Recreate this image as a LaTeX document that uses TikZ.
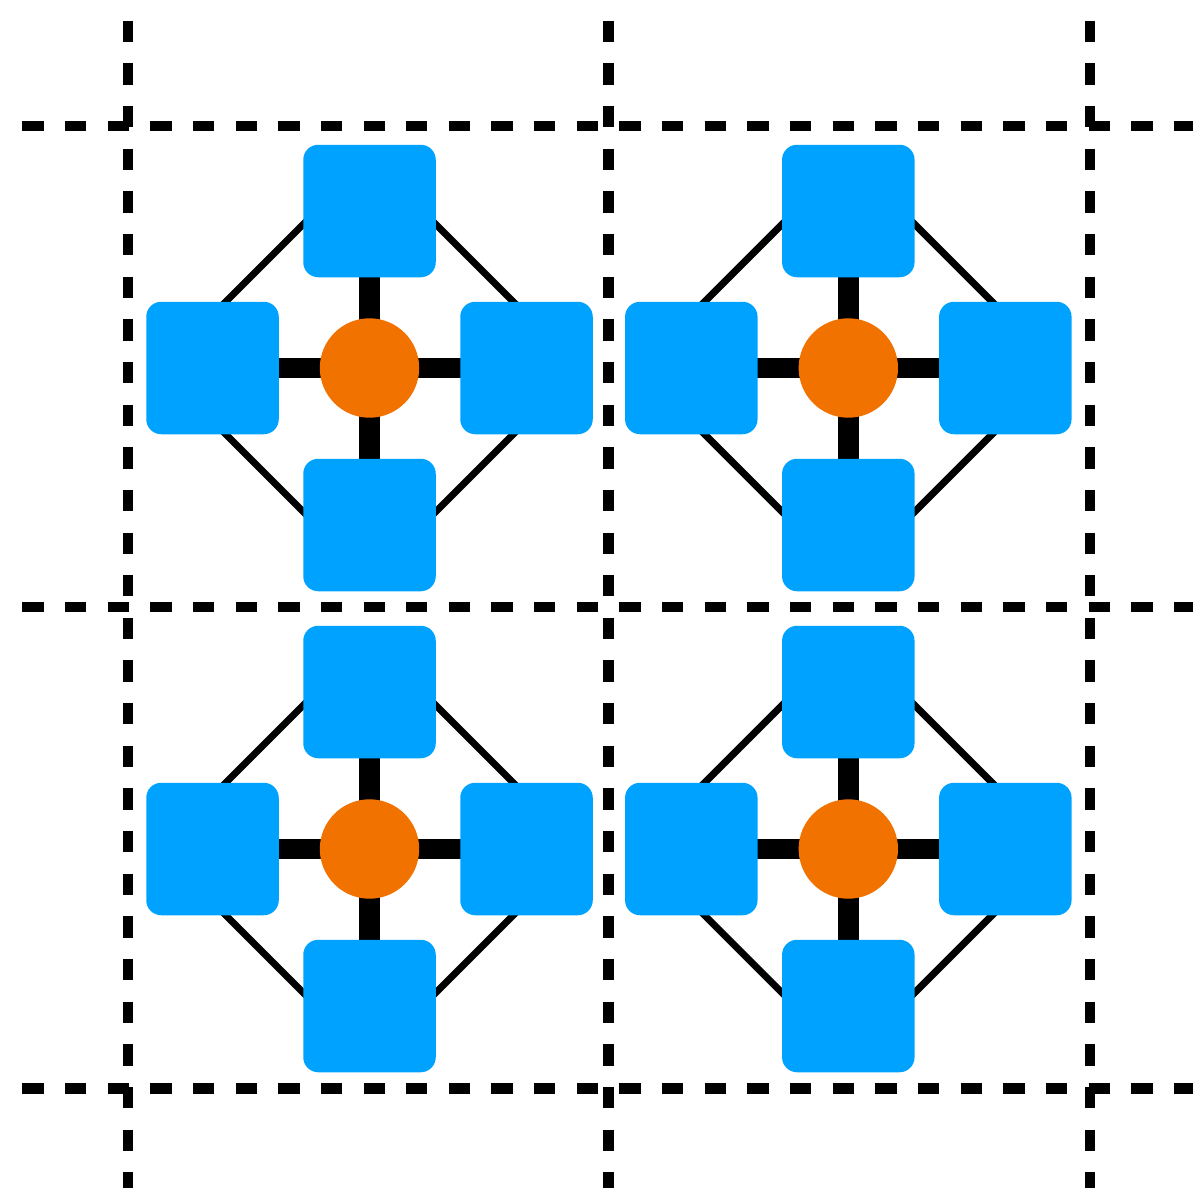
\documentclass[tikz,border=0pt]{standalone}
\usetikzlibrary{backgrounds,calc}
\definecolor{sqblue}{RGB}{0,162,255}
\definecolor{hubor}{RGB}{242,114,0}
\begin{document}
\begin{tikzpicture}[x=1pt,y=-1pt,
  gridline/.style={line width=10.5pt, dash pattern=on 21.3pt off 21.35pt},
  sq/.style={fill=sqblue, rounded corners=15pt, minimum size=132.5pt, inner sep=0pt, draw=none},
  hub/.style={circle, fill=hubor, minimum size=99.4pt, inner sep=0pt, draw=none},
  spoke/.style={line width=20.7pt},
  ring/.style={line width=7pt, line join=miter}]
\useasboundingbox (0,0) rectangle (1193,1188);
% dashed grid
\foreach \gy in {126,607,1088.5} \draw[gridline] (22.3,\gy) -- (1193,\gy);
\foreach \gx in {128,608.7,1089.8} \draw[gridline] (\gx,20.7) -- (\gx,1188);
% four cells
\foreach \cx/\cy/\n in {369.5/368/a, 848.3/368/b, 369.5/849/c, 848.3/849/d} {
  \node[hub] (\n h) at (\cx,\cy) {};
  \node[sq] (\n t) at (\cx,\cy-157) {};
  \node[sq] (\n b) at (\cx,\cy+157) {};
  \node[sq] (\n l) at (\cx-157,\cy) {};
  \node[sq] (\n r) at (\cx+157,\cy) {};
  \coordinate (\n W) at (\cx-210,\cy);
  \coordinate (\n N) at (\cx,\cy-210);
  \coordinate (\n E) at (\cx+210,\cy);
  \coordinate (\n S) at (\cx,\cy+210);
  \begin{pgfonlayer}{background}
    \draw[ring] (\n W) -- (\n N) -- (\n E) -- (\n S) -- cycle;
    \draw[spoke] (\n h.center) -- (\n t.center);
    \draw[spoke] (\n h.center) -- (\n b.center);
    \draw[spoke] (\n h.center) -- (\n l.center);
    \draw[spoke] (\n h.center) -- (\n r.center);
  \end{pgfonlayer}
}
\end{tikzpicture}
\end{document}
